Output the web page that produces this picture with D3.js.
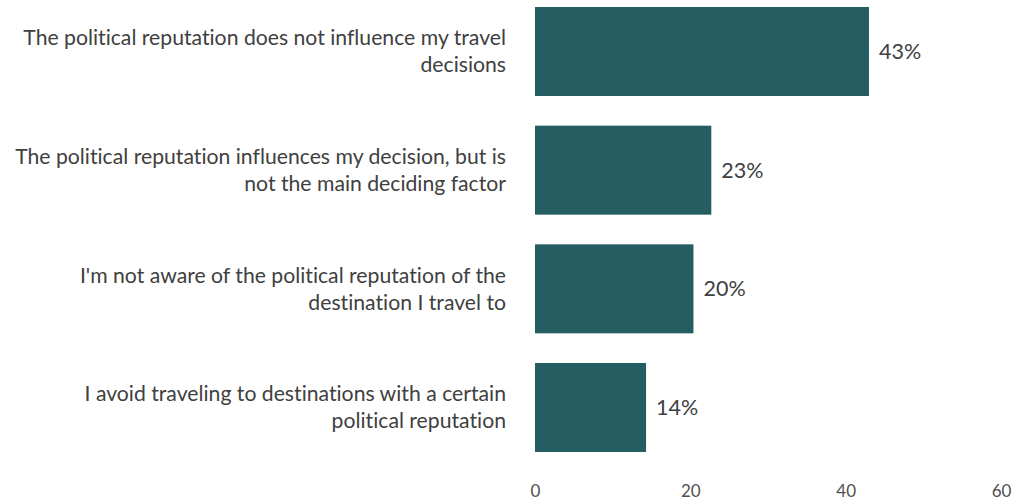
<!DOCTYPE html>
<html>
<head>
<meta charset="utf-8">
<script src="https://cdn.jsdelivr.net/npm/d3@7"></script>
<style>
  body { margin: 0; background: #fff; }
  svg { display: block; font-family: Lato, "Open Sans", sans-serif; }
</style>
</head>
<body>
<svg id="chart" width="1015" height="501"></svg>
<script>
// answers (line breaks as in the original)
var categories = [
    "The political reputation does not influence my travel\ndecisions",
    "The political reputation influences my decision, but is\nnot the main deciding factor",
    "I'm not aware of the political reputation of the\ndestination I travel to",
    "I avoid traveling to destinations with a certain\npolitical reputation"
];
var values = [43, 22.7, 20.4, 14.3];
var tickValues = [0, 20, 40, 60];

var svg = d3.select("#chart");

var xScale = d3.scaleLinear()
    .domain([0, 60])
    .range([535, 1001]);

var yScale = d3.scaleBand()
    .domain(categories)
    .range([7, 452])
    .paddingInner(0.25)
    .paddingOuter(0);

var textColor = "#404040";

svg.selectAll("rect.bar")
    .data(values)
    .enter()
    .append("rect")
    .attr("class", "bar")
    .attr("x", xScale(0))
    .attr("y", function(d, i) { return yScale(categories[i]); })
    .attr("width", function(d) { return xScale(d) - xScale(0); })
    .attr("height", yScale.bandwidth())
    .style("fill", "#245e63");

// value labels
svg.selectAll("text.value")
    .data(values)
    .enter()
    .append("text")
    .attr("class", "value")
    .attr("x", function(d) { return xScale(d) + 10; })
    .attr("y", function(d, i) { return yScale(categories[i]) + yScale.bandwidth() / 2; })
    .attr("dy", "0.35em")
    .text(function(d) { return Math.round(d) + "%"; })
    .style("font-size", "21.5px")
    .style("fill", textColor);

// category labels, right aligned, two lines each
var lineH = 27;
var cat = svg.selectAll("text.cat")
    .data(categories)
    .enter()
    .append("text")
    .attr("class", "cat")
    .attr("text-anchor", "end")
    .style("font-size", "21.2px")
    .style("font-variant-ligatures", "none")
    .style("fill", textColor);

cat.each(function(d) {
    var lines = d.split("\n");
    var cy = yScale(d) + yScale.bandwidth() / 2;
    var top = cy - (lines.length - 1) * lineH / 2;
    var t = d3.select(this);
    lines.forEach(function(l, j) {
        t.append("tspan")
            .attr("x", 506)
            .attr("y", top + j * lineH)
            .attr("dy", "0.35em")
            .text(l);
    });
});

// x axis: labels only
var xAxis = svg.append("g")
    .attr("transform", "translate(0,481)")
    .call(d3.axisBottom(xScale).tickValues(tickValues).tickSize(0).tickPadding(4));
xAxis.select(".domain").remove();
xAxis.selectAll("text")
    .style("font-family", "Lato, 'Open Sans', sans-serif")
    .style("font-size", "17px")
    .style("fill", "#505050");
</script>
</body>
</html>
